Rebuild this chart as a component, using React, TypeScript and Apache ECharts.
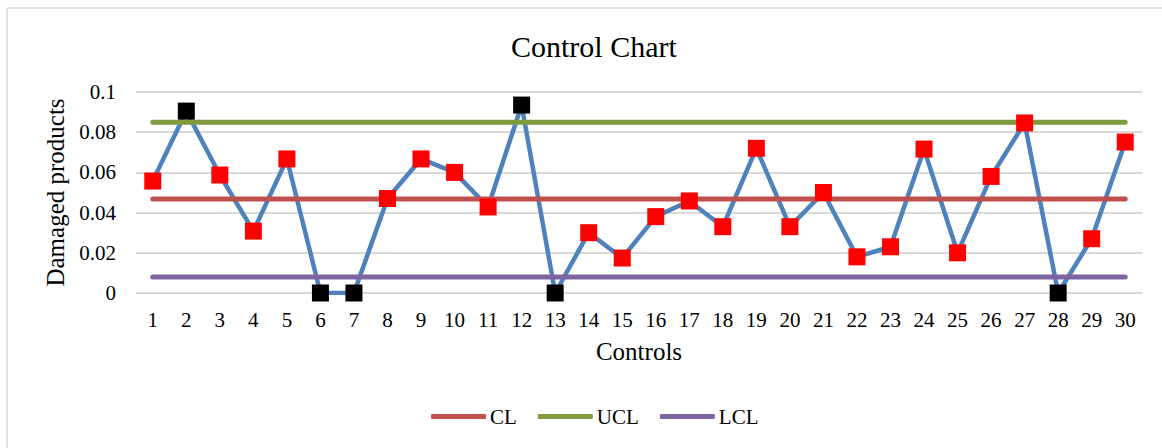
import React, { useEffect, useRef } from "react";
import * as echarts from "echarts";

const controls = [
  "1", "2", "3", "4", "5", "6", "7", "8", "9", "10",
  "11", "12", "13", "14", "15", "16", "17", "18", "19", "20",
  "21", "22", "23", "24", "25", "26", "27", "28", "29", "30",
];
const damagedProducts = [
  0.0557, 0.0905, 0.0587, 0.0308, 0.0667, 0, 0, 0.047, 0.0667, 0.06,
  0.0428, 0.0935, 0, 0.030, 0.0174, 0.038, 0.0458, 0.033, 0.072, 0.033,
  0.050, 0.018, 0.023, 0.0716, 0.020, 0.058, 0.0846, 0, 0.027, 0.0751,
];
const CL_VALUE = 0.0468;
const UCL_VALUE = 0.085;
const LCL_VALUE = 0.008;
const legendNames = ["CL", "UCL", "LCL"];

const FONT = "Liberation Serif";

export default function App() {
  const ref = useRef<HTMLDivElement>(null);
  useEffect(() => {
    document.body.style.margin = "0";
    if (!ref.current) return;
    const chart = echarts.init(ref.current, null, { renderer: "svg" });
    const limitLine = (name: string, value: number, color: string) => ({
      name,
      type: "line",
      data: controls.map(() => value),
      symbol: "none",
      lineStyle: { color, width: 5, cap: "round" },
      itemStyle: { color },
      silent: true,
    });
    chart.setOption({
      animation: false,
      textStyle: { fontFamily: FONT },
      title: {
        text: "Control Chart",
        left: 506,
        top: 26,
        textStyle: { fontFamily: FONT, fontSize: 30, fontWeight: "normal", color: "#000" },
      },
      legend: {
        data: legendNames.map((n) => ({ name: n, icon: "roundRect" })),
        left: 431,
        top: 406,
        padding: 0,
        itemWidth: 55,
        itemHeight: 5,
        itemGap: 21,
        textStyle: { fontFamily: FONT, fontSize: 21, color: "#000", padding: [0, 0, 0, -1] },
      },
      grid: { left: 136, right: 20, top: 92, bottom: 155, containLabel: false },
      xAxis: {
        type: "category",
        data: controls,
        boundaryGap: true,
        name: "Controls",
        nameLocation: "middle",
        nameGap: 46,
        nameTextStyle: { fontFamily: FONT, fontSize: 25, color: "#000" },
        axisLine: { show: false },
        axisTick: { show: false },
        axisLabel: { fontFamily: FONT, fontSize: 21, color: "#000", margin: 16, interval: 0 },
      },
      yAxis: {
        type: "value",
        min: 0,
        max: 0.1,
        interval: 0.02,
        name: "Damaged products",
        nameLocation: "middle",
        nameGap: 68,
        nameTextStyle: { fontFamily: FONT, fontSize: 25, color: "#000" },
        axisLine: { show: false },
        axisTick: { show: false },
        axisLabel: {
          fontFamily: FONT,
          fontSize: 21,
          color: "#000",
          margin: 20,
          formatter: (v: number) => String(parseFloat(v.toFixed(2))),
        },
        splitLine: { lineStyle: { color: "#D9D9D9", width: 2 } },
      },
      graphic: [
        { type: "line", shape: { x1: 7, y1: 8, x2: 1162, y2: 8 }, style: { stroke: "#D9D9D9", lineWidth: 1.5 } },
        { type: "line", shape: { x1: 7, y1: 8, x2: 7, y2: 448 }, style: { stroke: "#D9D9D9", lineWidth: 1.5 } },
      ],
      series: [
        {
          name: "Damaged products",
          type: "line",
          data: damagedProducts.map((v) => ({
            value: v,
            itemStyle: { color: v > UCL_VALUE || v < LCL_VALUE ? "#000000" : "#FF0000" },
          })),
          symbol: "rect",
          symbolSize: 17,
          lineStyle: { color: "#4F81BD", width: 4.5, cap: "round", join: "round" },
          itemStyle: { color: "#FF0000" },
        },
        limitLine("CL", CL_VALUE, "#C0504D"),
        limitLine("UCL", UCL_VALUE, "#7F9A3F"),
        limitLine("LCL", LCL_VALUE, "#8064A2"),
      ],
    });
    return () => chart.dispose();
  }, []);
  return (
    <div
      ref={ref}
      style={{ position: "fixed", left: 0, top: 0, width: 1162, height: 448, background: "#fff" }}
    />
  );
}
